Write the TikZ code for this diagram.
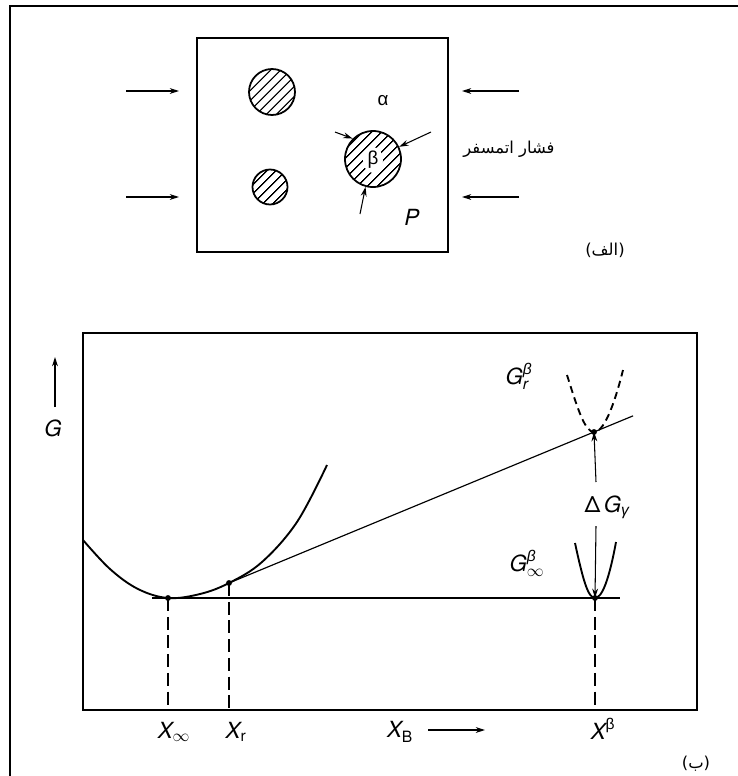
\documentclass[tikz,border=0pt]{standalone}
\usepackage{amsmath}
\usepackage{fontspec}
\setsansfont{TeX Gyre Heros}
\newfontfamily\arabicfont[Script=Arabic]{DejaVu Sans}
\newfontfamily\greekfont{Liberation Sans}
\TeXXeTstate=1
\usetikzlibrary{arrows.meta, patterns.meta, calc}

\newcommand{\sx}[1]{\textsf{\itshape #1}}
\newcommand{\gk}[1]{\text{\greekfont #1}}
\newcommand{\gki}[1]{\text{\greekfont\itshape #1}}

\begin{document}
\begin{tikzpicture}[x=0.03cm, y=-0.03cm, thick,
  frame/.style={line width=1.8pt},
  push/.style={line width=0.9pt, -{Stealth[length=8pt,width=5pt]}},
  hatched/.style={circle, draw, line width=1.5pt, inner sep=0pt,
    pattern={Lines[angle=45, distance=6.5pt, line width=1.2pt]}},
  lbl/.style={font=\fontsize{19}{22}\selectfont\sffamily},
  arab/.style={font=\fontsize{14}{16}\selectfont},
  dot/.style={circle, fill, inner sep=0pt, minimum size=5pt},
  guide/.style={line width=0.9pt, dash pattern=on 11pt off 5pt},
  curve/.style={line width=1.6pt},
  dcurve/.style={line width=1.6pt, dash pattern=on 6pt off 4pt}]
\useasboundingbox (0,0) rectangle (738,776);

% scan border
\draw[line width=2.2pt] (738,6) -- (10,6) -- (10,776);

% (a) cell with precipitates
\draw[frame] (197,38) rectangle (448,252);
\node[hatched, minimum size=1.38cm] (ppt1) at (272,92) {};
\node[hatched, minimum size=1.05cm] (ppt2) at (270,187) {};
\node[hatched, minimum size=1.68cm] (beta) at (373,159) {};
\fill[white] (373,160) ellipse (10 and 13);
\node[font=\fontsize{16}{19}\selectfont] at (373,160) {\greekfont β};
\node[font=\fontsize{16}{19}\selectfont] (alpha) at (383,101) {\greekfont α};
\node[lbl] (press) at (412,217) {\sx{P}};

% pressure on the beta particle
\coordinate (pa) at (335,132);
\coordinate (pb) at (431,132);
\coordinate (pc) at (360,214);
\draw[push] (pa) -- (beta.135);
\draw[push] (pb) -- (beta.25);
\draw[push] (pc) -- (beta.-105);

% atmospheric pressure arrows
\foreach \yy in {91,197} {
  \coordinate (l1) at (126,\yy);
  \coordinate (l2) at (179,\yy);
  \coordinate (r1) at (519,\yy);
  \coordinate (r2) at (462,\yy);
  \draw[push] (l1) -- (l2);
  \draw[push] (r1) -- (r2);
}
\node[arab] (atm) at (509,149) {\arabicfont\beginR فشار اتمسفر\endR};
\node[arab] (partA) at (605,250) {\arabicfont\beginR(الف)\endR};

% (b) free energy diagram
\draw[frame, line width=2.1pt] (83,333) rectangle (697,710);
\coordinate (gtail) at (55,407);
\coordinate (ghead) at (55,357);
\draw[push] (gtail) -- (ghead);
\node[lbl] (gG) at (53,428) {\sx{G}};

% alpha curve
\draw[curve] plot[smooth, tension=0.6] coordinates
  {(83,540) (110,569) (138,589) (168,598) (200,594) (229,583)
   (262,562) (297,522) (327,465)};

\coordinate (Xinf) at (168,598);
\coordinate (Xr) at (229,583);
\coordinate (Gr) at (594,432);
\coordinate (Ginf) at (595,598);

% tangent and base line
\draw[line width=1pt] (Xr) -- ($(Xr)!1.107!(Gr)$);
\draw[line width=1pt] (152,598) -- (620,598);

% beta curves
\draw[dcurve] (567,375) .. controls (578,410) and (585,432) .. (Gr)
  .. controls (603,432) and (613,410) .. (623,370);
\draw[curve] (575,543) .. controls (583,580) and (588,598) .. (Ginf)
  .. controls (602,598) and (609,580) .. (616,542);

\foreach \p in {Xinf, Xr, Gr, Ginf}
  \node[dot] at (\p) {};

% Delta G arrows
\coordinate (dg1) at (596,482);
\coordinate (dg2) at (596,526);
\draw[push] (dg1) -- (Gr);
\draw[push] (dg2) -- (Ginf);
\node[lbl] (dG) at (607,507) {$\textsf{Δ}\,\sx{G}_{\gki{γ}}$};
\node[lbl] (lGr) at (519,376) {$\sx{G}^{\gki{β}}_{\sx{r}}$};
\node[lbl] (lGi) at (527,563) {$\sx{G}^{\gki{β}}_{\infty}$};

% dashed guides to the axis
\foreach \p in {Xinf, Xr, Ginf}
  \draw[guide] (\p) -- (\p |- 0,710);

% axis labels
\node[lbl] (lXi) at (174,732) {$\sx{X}_{\infty}$};
\node[lbl] (lXr) at (236,732) {$\sx{X}_{\textsf{r}}$};
\node[lbl] (lXB) at (400,732) {$\sx{X}_{\textsf{B}}$};
\coordinate (xa1) at (428,730);
\coordinate (xa2) at (485,730);
\draw[push] (xa1) -- (xa2);
\node[lbl] (lXb) at (603,729) {$\sx{X}^{\gk{β}}$};
\node[arab] (partB) at (696,764) {\arabicfont\beginR(ب)\endR};
\end{tikzpicture}
\end{document}
